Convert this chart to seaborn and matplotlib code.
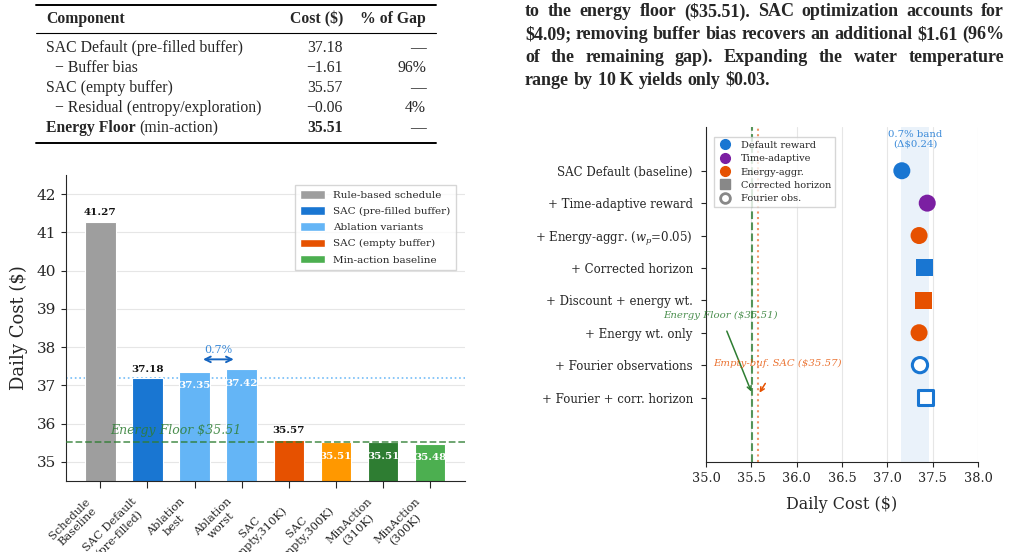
import numpy as np
import pandas as pd
import seaborn as sns
import matplotlib.pyplot as plt
from matplotlib.patches import Patch
from matplotlib.lines import Line2D

# ---- data -------------------------------------------------------------
table_components = ["SAC Default (pre-filled buffer)", "\u2212 Buffer bias", "SAC (empty buffer)",
                    "\u2212 Residual (entropy/exploration)", "Energy Floor"]
table_costs = ["37.18", "\u22121.61", "35.57", "\u22120.06", "35.51"]
table_gaps = ["\u2014", "96%", "\u2014", "4%", "\u2014"]

para_lines = [
    "to the energy floor ($35.51). SAC optimization accounts for",
    "$4.09; removing buffer bias recovers an additional $1.61 (96%",
    "of the remaining gap). Expanding the water temperature",
    "range by 10\u2009K yields only $0.03.",
]

bar_labels = ["Schedule\nBaseline", "SAC Default\n(pre-filled)", "Ablation\nbest", "Ablation\nworst",
              "SAC\n(empty,310K)", "SAC\n(empty,300K)", "MinAction\n(310K)", "MinAction\n(300K)"]
bar_costs = [41.27, 37.18, 37.35, 37.42, 35.57, 35.51, 35.51, 35.48]
bar_colors = ["#9E9E9E", "#1976D2", "#64B5F6", "#64B5F6", "#E65100", "#FF9800", "#2E7D32", "#4CAF50"]
bar_label_inside = [False, False, True, True, False, True, True, True]
legend_names = ["Rule-based schedule", "SAC (pre-filled buffer)", "Ablation variants",
                "SAC (empty buffer)", "Min-action baseline"]
legend_colors = ["#9E9E9E", "#1976D2", "#64B5F6", "#E65100", "#4CAF50"]

energy_floor = 35.51
sac_default = 37.18
empty_sac = 35.57

variants = ["SAC Default (baseline)", "+ Time-adaptive reward", "+ Energy-aggr. ($w_p$=0.05)",
            "+ Corrected horizon", "+ Discount + energy wt.", "+ Energy wt. only",
            "+ Fourier observations", "+ Fourier + corr. horizon"]
variant_costs = [37.16, 37.44, 37.35, 37.41, 37.40, 37.35, 37.36, 37.42]
variant_reward = ["default", "time", "energy", "default", "energy", "energy", "default", "default"]
variant_shape = ["circle", "circle", "circle", "square", "square", "circle", "circle", "square"]
variant_open = [False, False, False, False, False, False, True, True]
band_lo, band_hi = 37.15, 37.46

reward_colors = {"default": "#1976D2", "time": "#7B1FA2", "energy": "#E65100"}

# ---- style ------------------------------------------------------------
sns.set_style("ticks")
plt.rcParams["font.family"] = ["DejaVu Serif"]
plt.rcParams["mathtext.fontset"] = "dejavuserif"

fig = plt.figure(figsize=(10.11, 5.52), dpi=100)
renderer = fig.canvas.get_renderer()

# page overlay in pixel coordinates (table + paragraph)
page = fig.add_axes([0, 0, 1, 1])
page.set_xlim(0, 1011)
page.set_ylim(552, 0)
page.axis("off")

tfont = dict(family=["Liberation Serif", "DejaVu Serif"], fontsize=11.3, va="center")
page.plot([36, 436], [4.5, 4.5], color="black", lw=1.4)
page.plot([36, 436], [33, 33], color="black", lw=0.8)
page.plot([36, 436], [142.5, 142.5], color="black", lw=1.4)
page.text(46, 19, "Component", fontweight="bold", **tfont)
page.text(343, 19, "Cost ($)", fontweight="bold", ha="right", **tfont)
page.text(426, 19, "% of Gap", fontweight="bold", ha="right", **tfont)
for i, (comp, cost, gap) in enumerate(zip(table_components, table_costs, table_gaps)):
    y = 48.5 + 20 * i
    indent = 55 if comp.startswith("\u2212") else 46
    last = i == len(table_components) - 1
    t = page.text(indent, y, comp, fontweight="bold" if last else "normal", **tfont)
    if last:
        w = t.get_window_extent(renderer).width
        page.text(indent + w + 4, y, "(min-action)", **tfont)
    page.text(343, y, cost, ha="right", fontweight="bold" if last else "normal", **tfont)
    page.text(426, y, gap, ha="right", **tfont)

# justified paragraph (last line ragged)
pfont = dict(family=["Liberation Serif", "DejaVu Serif"], fontsize=13, fontweight="bold", va="baseline")
for i, line in enumerate(para_lines):
    y = 16.5 + 22.7 * i
    words = line.split(" ")
    texts = [page.text(0, y, w, **pfont) for w in words]
    widths = [t.get_window_extent(renderer).width for t in texts]
    if i < len(para_lines) - 1:
        gap = (1004 - 525 - sum(widths)) / (len(words) - 1)
    else:
        gap = 5
    x = 525
    for t, w in zip(texts, widths):
        t.set_x(x)
        x += w + gap

# ---- left: bar chart --------------------------------------------------
ax1 = fig.add_axes([66 / 1011, 71 / 552, 399 / 1011, 306 / 552])
bar_df = pd.DataFrame({"label": bar_labels, "cost": bar_costs})
sns.barplot(data=bar_df, x="label", y="cost", hue="label", palette=bar_colors, width=0.65,
            saturation=1, legend=False, edgecolor="white", linewidth=0.8, ax=ax1, zorder=2)
ax1.set_ylim(34.5, 42.5)
ax1.set_xlim(-0.73, 7.74)
ax1.yaxis.grid(True, color="#E6E6E6", lw=0.8, zorder=0)
ax1.set_axisbelow(True)
sns.despine(ax=ax1)
ax1.set_xlabel("")
ax1.set_ylabel("Daily Cost ($)", fontsize=13, labelpad=6)
ax1.tick_params(axis="y", labelsize=11)
ax1.tick_params(axis="x", length=5, pad=6)
ax1.set_xticks(range(len(bar_labels)))
ax1.set_xticklabels(bar_labels, rotation=45, ha="right", fontsize=8.2, multialignment="center")

for i, (v, inside) in enumerate(zip(bar_costs, bar_label_inside)):
    if inside:
        ax1.text(i, v - 0.36, f"{v:.2f}", ha="center", va="center", color="white",
                 fontsize=7.5, fontweight="bold", zorder=4)
    else:
        ax1.text(i, v + 0.12, f"{v:.2f}", ha="center", va="bottom", color="#111111",
                 fontsize=7.5, fontweight="bold", zorder=4)

ax1.axhline(energy_floor, color="#2E7D32", ls="--", lw=1.3, alpha=0.75, zorder=3)
ax1.axhline(sac_default, color="#64B5F6", ls=":", lw=1.2, alpha=0.9, zorder=1)
ax1.text(1.6, energy_floor + 0.3, f"Energy Floor ${energy_floor:.2f}", color="#2E7D32", alpha=0.85,
         fontsize=9, style="italic", ha="center", va="center", zorder=4)
ax1.annotate("", xy=(2.12, 37.68), xytext=(2.89, 37.68),
             arrowprops=dict(arrowstyle="<->", color="#1565C0", lw=1.4))
ax1.text(2.5, 37.8, "0.7%", color="#1976D2", alpha=0.85, fontsize=8, ha="center", va="bottom")

ax1.legend(handles=[Patch(facecolor=c, edgecolor="white", label=n) for n, c in zip(legend_names, legend_colors)],
           loc="upper right", fontsize=7.5, frameon=True, fancybox=False, borderpad=0.5,
           labelspacing=0.6, handlelength=2.4, handleheight=0.9, bbox_to_anchor=(0.99, 0.985))

# ---- right: ablation dot plot -------------------------------------------
ax2 = fig.add_axes([706 / 1011, 90 / 552, 272 / 1011, 335 / 552])
var_df = pd.DataFrame({"variant": variants, "cost": variant_costs, "reward": variant_reward,
                       "shape": variant_shape, "open": variant_open})
var_df["pos"] = np.arange(len(variants))
marker_map = {"circle": "o", "square": "s"}

ax2.axvspan(band_lo, band_hi, color="#1976D2", alpha=0.09, lw=0, zorder=0)
filled = var_df[~var_df["open"]]
sns.scatterplot(data=filled, x="cost", y="pos", hue="reward", palette=reward_colors, style="shape",
                markers=marker_map, s=150, linewidth=0, legend=False, ax=ax2, zorder=3)
hollow = var_df[var_df["open"]]
sns.scatterplot(data=hollow, x="cost", y="pos", style="shape", markers=marker_map, s=120,
                color="white", edgecolor="#1976D2", linewidth=2.2, legend=False, ax=ax2, zorder=3)

ax2.axvline(energy_floor, color="#2E7D32", ls="--", lw=1.5, alpha=0.8, zorder=2)
ax2.axvline(empty_sac, color="#E65100", ls=":", lw=1.5, alpha=0.6, zorder=2)
ax2.set_xlim(35, 38)
ax2.set_ylim(8.99, -1.35)
ax2.set_yticks(var_df["pos"])
ax2.set_yticklabels(variants, fontsize=8.5)
ax2.tick_params(axis="y", pad=6)
ax2.tick_params(axis="x", labelsize=9.3)
ax2.set_xlabel("Daily Cost ($)", fontsize=11.5, labelpad=8)
ax2.set_ylabel("")
ax2.xaxis.grid(True, color="#E6E6E6", lw=0.8)
ax2.set_axisbelow(True)
sns.despine(ax=ax2)

ax2.text((band_lo + band_hi) / 2, -0.98, "0.7% band\n(\u0394$0.24)", color="#1976D2", alpha=0.85,
         fontsize=7.3, ha="center", va="center", linespacing=1.1)
ax2.annotate(f"Energy Floor (${energy_floor:.2f})", xy=(energy_floor - 0.01, 6.82), xytext=(35.16, 4.47),
             color="#2E7D32", alpha=0.85, fontsize=7.3, style="italic", ha="center", va="center",
             arrowprops=dict(arrowstyle="->", color="#2E7D32", lw=1.1, shrinkA=6, shrinkB=0))
ax2.annotate(f"Empty-buf. SAC (${empty_sac:.2f})", xy=(empty_sac + 0.02, 6.85), xytext=(35.79, 5.96),
             color="#E65100", alpha=0.8, fontsize=7.3, style="italic", ha="center", va="center",
             arrowprops=dict(arrowstyle="->", color="#E65100", lw=1.1, shrinkA=10, shrinkB=0))

handles2 = [
    Line2D([], [], ls="", marker="o", ms=7, color=reward_colors["default"], label="Default reward"),
    Line2D([], [], ls="", marker="o", ms=7, color=reward_colors["time"], label="Time-adaptive"),
    Line2D([], [], ls="", marker="o", ms=7, color=reward_colors["energy"], label="Energy-aggr."),
    Line2D([], [], ls="", marker="s", ms=7, color="#888888", label="Corrected horizon"),
    Line2D([], [], ls="", marker="o", ms=7, markerfacecolor="white", markeredgecolor="#888888",
           markeredgewidth=2, label="Fourier obs."),
]
ax2.legend(handles=handles2, loc="upper left", fontsize=7, frameon=True, fancybox=False,
           labelspacing=0.45, handlelength=1.6, borderpad=0.4, bbox_to_anchor=(0.01, 0.985))

fig.savefig("out.png", dpi=100)
